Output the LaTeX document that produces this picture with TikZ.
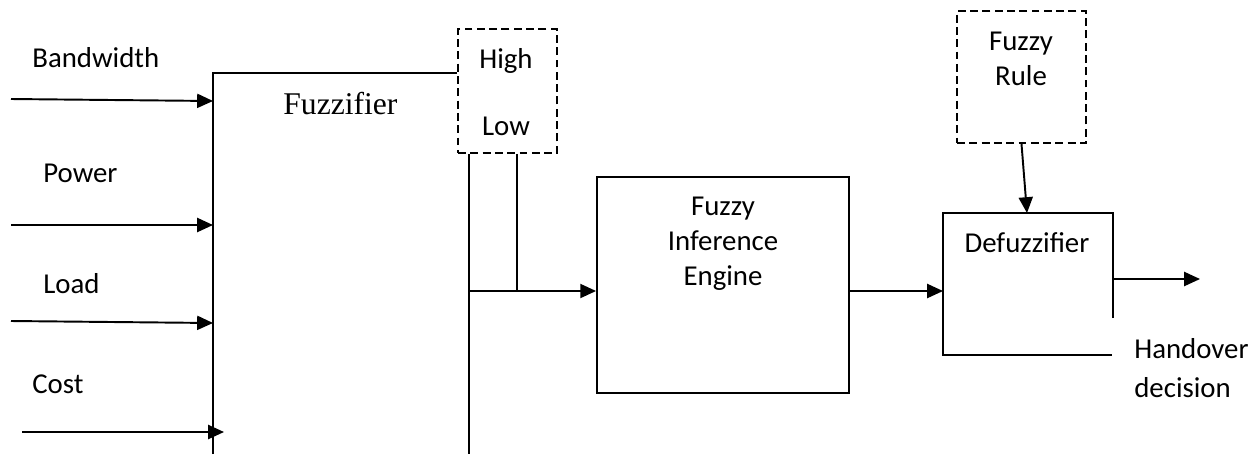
\documentclass[tikz,border=0pt]{standalone}
\usepackage{fontspec}
\setmainfont{Carlito}
\newfontfamily\fzserif{Liberation Serif}
\usetikzlibrary{arrows.meta}
\begin{document}
\begin{tikzpicture}[x=0.02cm,y=-0.02cm,
  line/.style={line width=1.1pt, line cap=butt},
  arr/.style={line, -{Triangle[length=9pt,width=8pt]}},
  dbox/.style={draw, line width=1.1pt, dash pattern=on 4.5pt off 2.5pt, inner sep=0pt},
  box/.style={draw, line width=1.1pt, inner sep=0pt},
  lbl/.style={inner sep=0pt, font=\fontsize{16.4}{19.8}\selectfont},
]
\useasboundingbox (0,0) rectangle (1251,454);

% input labels
\node[lbl, anchor=base west] (bw) at (32,67) {Bandwidth};
\node[lbl, anchor=base west] (pw) at (43,182) {Power};
\node[lbl, anchor=base west] (ld) at (43,293) {Load};
\node[lbl, anchor=base west] (cs) at (32,393) {Cost};

% fuzzifier (open block)
\coordinate (fzTL) at (213,73);
\coordinate (fzBL) at (213,454);
\coordinate (fzRB) at (469,454);
\node[inner sep=0pt, font=\fzserif\fontsize{18}{22}\selectfont, anchor=base west] (fz) at (283,114) {Fuzzifier};

% input arrows
\coordinate (bwS) at (11,99);  \coordinate (bwE) at (213,101);
\coordinate (pwS) at (11,225); \coordinate (pwE) at (213,225);
\coordinate (ldS) at (11,321); \coordinate (ldE) at (213,323);
\coordinate (csS) at (22,432); \coordinate (csE) at (224,432);
\draw[arr] (bwS) -- (bwE);
\draw[arr] (pwS) -- (pwE);
\draw[arr] (ldS) -- (ldE);
\draw[arr] (csS) -- (csE);

% High / Low dashed box
\node[dbox, minimum width=1.98cm, minimum height=2.48cm] (hl) at (507.5,91) {};
\node[lbl, anchor=base] (high) at (506,68) {High};
\node[lbl, anchor=base] (low) at (506,135) {Low};

\draw[line] (fzBL) -- (fzTL) -- (fzTL -| hl.west);
\draw[line] (fzRB |- hl.south) -- (fzRB);

% inference engine
\node[box, minimum width=5.04cm, minimum height=4.32cm] (inf) at (723,285) {};
\node[lbl, anchor=base, align=center] (inft) at (723,285) {Fuzzy\\Inference\\Engine};

\coordinate (j) at (517,291);
\draw[line] (j |- hl.south) -- (j);
\draw[arr] (fzRB |- j) -- (inf.west |- j);

% defuzzifier (open block)
\coordinate (dfTL) at (943,213);
\coordinate (dfTR) at (1113,213);
\coordinate (dfRe) at (1113,318);
\coordinate (dfBL) at (943,355);
\coordinate (dfBR) at (1112,355);
\draw[line] (dfRe) -- (dfTR) -- (dfTL) -- (dfBL) -- (dfBR);
\node[lbl, anchor=base] (df) at (1027,252) {Defuzzifier};

\draw[arr] (inf.east |- j) -- (dfTL |- j);

% fuzzy rule
\node[dbox, minimum width=2.58cm, minimum height=2.64cm] (rule) at (1021.5,77) {};
\node[lbl, anchor=base, align=center] (rulet) at (1021,85) {Fuzzy\\Rule};
\coordinate (dfIn) at (1027,213);
\draw[arr] (rule.south) -- (dfIn);

% output
\coordinate (outS) at (1113,279);
\coordinate (outE) at (1200,279);
\draw[arr] (outS) -- (outE);
\node[lbl, font=\fontsize{16.4}{22.1}\selectfont, anchor=base west, align=left] (ho) at (1134,397) {Handover\\decision};
\end{tikzpicture}
\end{document}
